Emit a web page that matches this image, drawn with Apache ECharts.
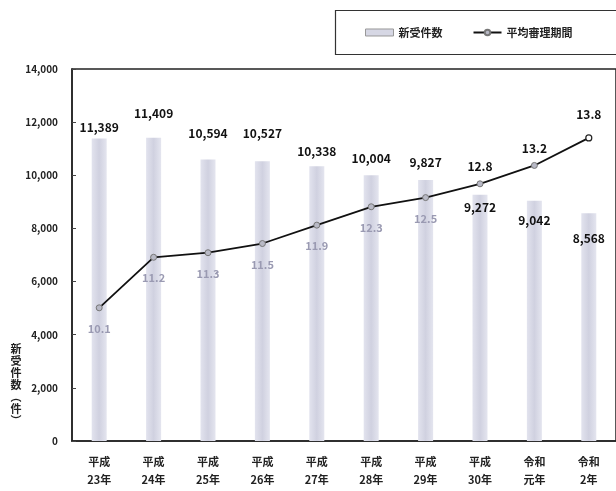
<!DOCTYPE html>
<html><head><meta charset="utf-8">
<script src="https://cdn.jsdelivr.net/npm/echarts@6/dist/echarts.min.js"></script>
<style>html,body{margin:0;padding:0;background:#fff}#c{width:616px;height:491px}</style>
</head><body><div id="c"></div>
<script>
const categories = ['平成\n23年','平成\n24年','平成\n25年','平成\n26年','平成\n27年','平成\n28年','平成\n29年','平成\n30年','令和\n元年','令和\n2年'];
const newCases = [11389, 11409, 10594, 10527, 10338, 10004, 9827, 9272, 9042, 8568];
const avgPeriod = [10.1, 11.2, 11.3, 11.5, 11.9, 12.3, 12.5, 12.8, 13.2, 13.8];
const yTicks = [0, 2000, 4000, 6000, 8000, 10000, 12000, 14000];
const yTitleChars = ['新', '受', '件', '数', '︵', '件', '︶'];

// label layout (style only)
const barLabelDy = [0, -13, -15, -17, -4, -6, -6, 24, 31, 36];
const lineLabelBelow = [true, true, true, true, true, true, true, false, false, false];

const FONT = '"Noto Sans CJK JP", "Noto Sans", sans-serif';
const chart = echarts.init(document.getElementById('c'));

const barData = newCases.map((v, i) => ({
  value: v,
  label: { offset: [0, barLabelDy[i]] }
}));
const lineData = avgPeriod.map((v, i) => {
  const below = lineLabelBelow[i];
  const last = i === avgPeriod.length - 1;
  return {
    value: v,
    itemStyle: last ? { color: '#fff', borderColor: '#222', borderWidth: 1.2 } : undefined,
    label: below
      ? { position: 'bottom', distance: 12, color: '#9a9ab2', fontSize: 11 }
      : { position: 'top', distance: last ? 14 : 8, color: '#111', fontSize: 12 }
  };
});

const titleGraphics = yTitleChars.map((ch, i) => ({
  type: 'text', x: 16, y: 343 + i * 12,
  style: { text: ch, fontSize: 11, fontWeight: 'bold', fill: '#222', fontFamily: FONT, align: 'center', verticalAlign: 'top' }
}));

chart.setOption({
  animation: false,
  backgroundColor: '#fff',
  textStyle: { fontFamily: FONT },
  grid: { left: 72, top: 69, width: 547, bottom: 50, show: true, borderColor: '#222', borderWidth: 1.5, backgroundColor: 'transparent' },
  legend: {
    left: 360, top: 22, itemGap: 30, itemWidth: 28, itemHeight: 7,
    textStyle: { fontSize: 11, fontWeight: 'bold', color: '#222', fontFamily: FONT },
    data: [{ name: '新受件数', icon: 'rect', itemStyle: { color: '#d6d7e4', borderColor: '#999', borderWidth: 1 } }, { name: '平均審理期間' }]
  },
  graphic: [
    { type: 'rect', left: 333, top: 8, shape: { width: 300, height: 44 }, style: { fill: 'none', stroke: '#333', lineWidth: 1.2 } }
  ].concat(titleGraphics),
  xAxis: {
    type: 'category', data: categories, boundaryGap: true,
    axisLine: { lineStyle: { color: '#222', width: 1.5 } },
    axisTick: { show: false },
    axisLabel: { fontSize: 11, fontWeight: 'bold', color: '#222', lineHeight: 18, margin: 12, interval: 0 }
  },
  yAxis: [{
    type: 'value', min: 0, max: 14000, interval: 2000,
    axisLine: { show: true, lineStyle: { color: '#222', width: 1.5 } },
    axisTick: { show: true, inside: true, length: 4, lineStyle: { color: '#444' } },
    splitLine: { show: false },
    axisLabel: { fontSize: 10, fontWeight: 'bold', color: '#222', margin: 14,
      formatter: v => yTicks.includes(v) ? v.toLocaleString('en-US') : '' }
  }, {
    type: 'value', min: 7.2, max: 15.3, show: false, splitLine: { show: false }
  }],
  series: [{
    name: '新受件数', type: 'bar', data: barData, barWidth: 15, yAxisIndex: 0,
    itemStyle: { color: new echarts.graphic.LinearGradient(0, 0, 1, 0, [
      { offset: 0, color: '#e2e3ee' }, { offset: 0.5, color: '#d0d1e0' }, { offset: 1, color: '#e4e5ef' }]) },
    label: { show: true, position: 'top', distance: 5, fontSize: 12, fontWeight: 'bold', color: '#111',
      formatter: p => p.value.toLocaleString('en-US') },
    z: 2
  }, {
    name: '平均審理期間', type: 'line', data: lineData, yAxisIndex: 1,
    symbol: 'circle', symbolSize: 6,
    lineStyle: { color: '#111', width: 1.8 },
    itemStyle: { color: '#b8b9c6', borderColor: '#777', borderWidth: 1 },
    label: { show: true, fontWeight: 'bold', formatter: p => p.value.toFixed(1) },
    z: 3
  }]
});
</script></body></html>
